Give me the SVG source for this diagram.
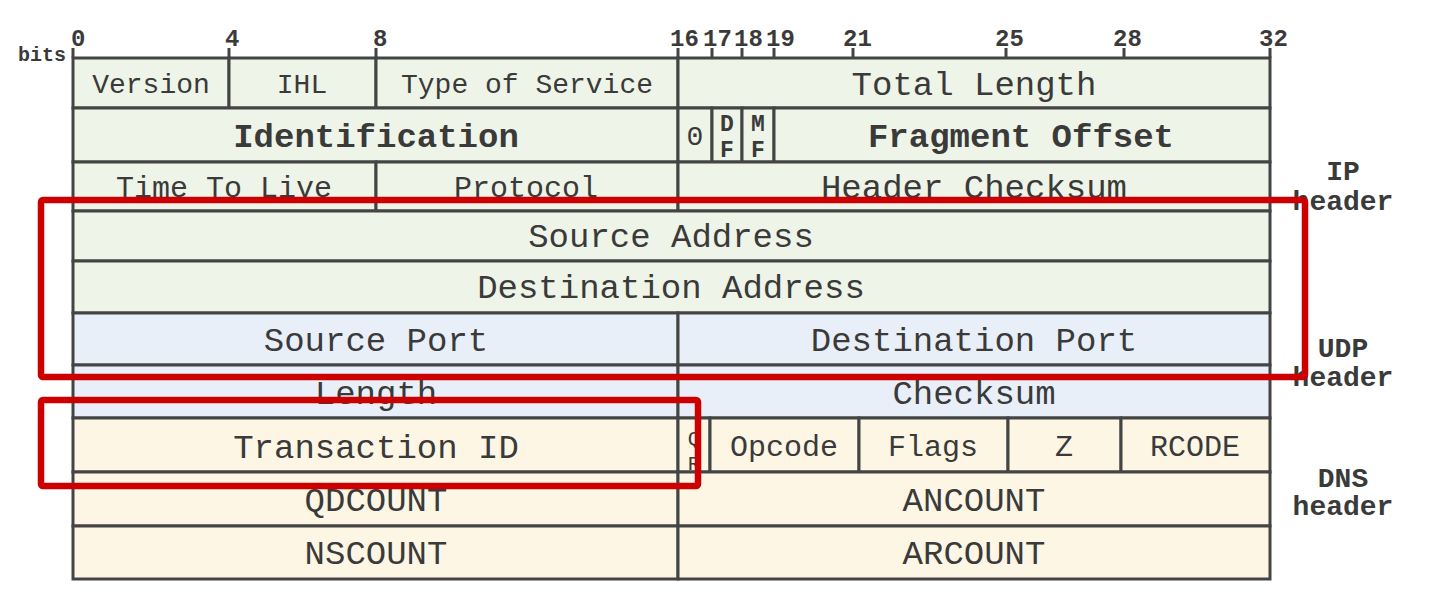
<svg xmlns="http://www.w3.org/2000/svg" width="1453" height="603" viewBox="0 0 1453 603">
<style>
.ip{fill:#eef4e7;stroke:#444;stroke-width:3}
.udp{fill:#e9eff8;stroke:#444;stroke-width:3}
.dns{fill:#fdf6e4;stroke:#444;stroke-width:3}
text{font-family:"Liberation Mono","Courier New",monospace;fill:#3a3a3a;text-anchor:middle}
.t{font-size:34px}
.s{font-size:28px}
.m{font-size:30px}
.b{font-weight:bold}
.bit{font-size:24px;font-weight:bold;text-anchor:start}
.side{font-size:28px;font-weight:bold}
.tick{stroke:#444;stroke-width:3}
.red{fill:none;stroke:#cc0000;stroke-width:6.5;rx:2}
.fl{font-size:23px;font-weight:bold}
</style>
<rect width="1453" height="603" fill="#fff"/>
<g id="ruler">
<text x="18" y="61" style="font-size:20px;font-weight:bold;text-anchor:start">bits</text>
<text class="bit" x="71" y="46">0</text>
<text class="bit" x="225" y="46">4</text>
<text class="bit" x="373" y="46">8</text>
<text class="bit" x="670" y="46">16</text>
<text class="bit" x="703" y="46">17</text>
<text class="bit" x="734" y="46">18</text>
<text class="bit" x="766" y="46">19</text>
<text class="bit" x="843" y="46">21</text>
<text class="bit" x="995" y="46">25</text>
<text class="bit" x="1113" y="46">28</text>
<text class="bit" x="1259" y="46">32</text>
<g class="tick">
<line x1="73" y1="48" x2="73" y2="58"/><line x1="229" y1="48" x2="229" y2="58"/><line x1="376" y1="48" x2="376" y2="58"/>
<line x1="678" y1="48" x2="678" y2="58"/><line x1="712" y1="48" x2="712" y2="58"/><line x1="742" y1="48" x2="742" y2="58"/>
<line x1="774" y1="48" x2="774" y2="58"/><line x1="853" y1="48" x2="853" y2="58"/><line x1="1006" y1="48" x2="1006" y2="58"/>
<line x1="1124" y1="48" x2="1124" y2="58"/><line x1="1270" y1="48" x2="1270" y2="58"/>
</g>
</g>
<g id="ip-header">
<g id="version"><rect class="ip" x="73" y="58" width="156" height="50"/><text class="s" x="151" y="93">Version</text></g>
<g id="ihl"><rect class="ip" x="229" y="58" width="147" height="50"/><text class="s" x="302" y="93">IHL</text></g>
<g id="tos"><rect class="ip" x="376" y="58" width="302" height="50"/><text class="s" x="527" y="93">Type of Service</text></g>
<g id="total-length"><rect class="ip" x="678" y="58" width="592" height="50"/><text class="t" x="974" y="95">Total Length</text></g>
<g id="identification"><rect class="ip" x="73" y="108" width="605" height="54"/><text class="t b" x="376" y="147">Identification</text></g>
<g id="flag0"><rect class="ip" x="678" y="108" width="34" height="54"/><text x="695" y="145" style="font-size:28px">0</text></g>
<g id="df"><rect class="ip" x="712" y="108" width="30" height="54"/><text class="fl" x="727" y="131">D</text><text class="fl" x="727" y="157">F</text></g>
<g id="mf"><rect class="ip" x="742" y="108" width="32" height="54"/><text class="fl" x="758" y="131">M</text><text class="fl" x="758" y="157">F</text></g>
<g id="fragment-offset"><rect class="ip" x="774" y="108" width="496" height="54"/><text class="t b" x="1021" y="147">Fragment Offset</text></g>
<g id="ttl"><rect class="ip" x="73" y="162" width="303" height="49"/><text class="m" x="224" y="197">Time To Live</text></g>
<g id="protocol"><rect class="ip" x="376" y="162" width="302" height="49"/><text class="m" x="526" y="197">Protocol</text></g>
<g id="header-checksum"><rect class="ip" x="678" y="162" width="592" height="49"/><text class="t" x="974" y="198">Header Checksum</text></g>
<g id="source-address"><rect class="ip" x="73" y="211" width="1197" height="50"/><text class="t" x="671" y="247">Source Address</text></g>
<g id="destination-address"><rect class="ip" x="73" y="261" width="1197" height="52"/><text class="t" x="671" y="298">Destination Address</text></g>
</g>
<g id="udp-header">
<g id="source-port"><rect class="udp" x="73" y="313" width="605" height="52"/><text class="t" x="376" y="351">Source Port</text></g>
<g id="destination-port"><rect class="udp" x="678" y="313" width="592" height="52"/><text class="t" x="974" y="351">Destination Port</text></g>
<g id="length"><rect class="udp" x="73" y="365" width="605" height="53"/><text class="t" x="376" y="404">Length</text></g>
<g id="checksum"><rect class="udp" x="678" y="365" width="592" height="53"/><text class="t" x="974" y="404">Checksum</text></g>
</g>
<g id="dns-header">
<g id="transaction-id"><rect class="dns" x="73" y="418" width="605" height="54"/><text class="t" x="376" y="458">Transaction ID</text></g>
<g id="qr"><rect class="dns" x="678" y="418" width="32" height="54"/><text x="694" y="445" style="font-size:21px">Q</text><text x="694" y="470" style="font-size:21px">R</text></g>
<g id="opcode"><rect class="dns" x="710" y="418" width="149" height="54"/><text class="m" x="784" y="456">Opcode</text></g>
<g id="flags"><rect class="dns" x="859" y="418" width="149" height="54"/><text class="m" x="933" y="456">Flags</text></g>
<g id="z"><rect class="dns" x="1008" y="418" width="113" height="54"/><text class="m" x="1064" y="456">Z</text></g>
<g id="rcode"><rect class="dns" x="1121" y="418" width="149" height="54"/><text class="m" x="1195" y="456">RCODE</text></g>
<g id="qdcount"><rect class="dns" x="73" y="472" width="605" height="54"/><text class="t" x="376" y="511">QDCOUNT</text></g>
<g id="ancount"><rect class="dns" x="678" y="472" width="592" height="54"/><text class="t" x="974" y="511">ANCOUNT</text></g>
<g id="nscount"><rect class="dns" x="73" y="526" width="605" height="53"/><text class="t" x="376" y="564">NSCOUNT</text></g>
<g id="arcount"><rect class="dns" x="678" y="526" width="592" height="53"/><text class="t" x="974" y="564">ARCOUNT</text></g>
</g>
<g id="labels">
<text class="side" x="1343" y="180">IP</text><text class="side" x="1343" y="210">header</text>
<text class="side" x="1343" y="357">UDP</text><text class="side" x="1343" y="386">header</text>
<text class="side" x="1343" y="487">DNS</text><text class="side" x="1343" y="515">header</text>
</g>
<g id="highlights">
<rect class="red" x="41" y="200" width="1264" height="177"/>
<rect class="red" x="41" y="400" width="657" height="86"/>
</g>
</svg>
